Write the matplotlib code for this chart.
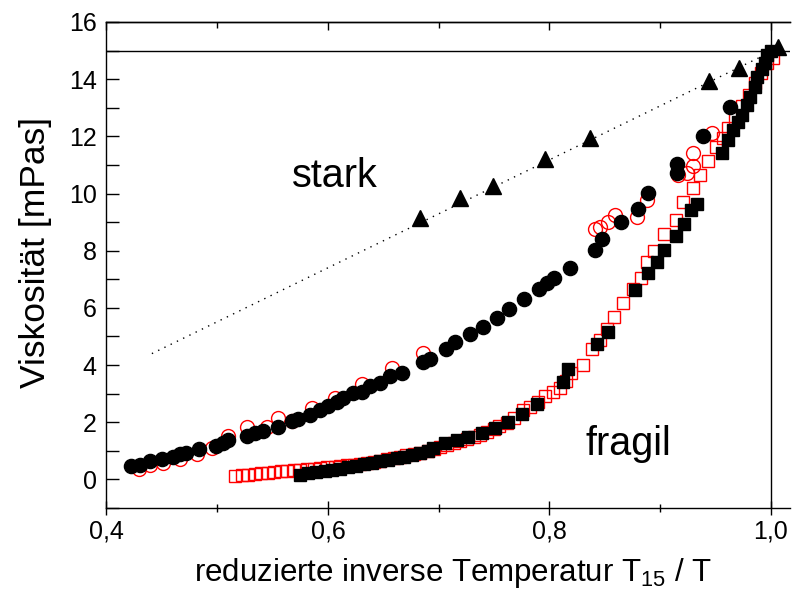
import matplotlib
matplotlib.use("Agg")
import matplotlib.pyplot as plt
from matplotlib.ticker import MultipleLocator, FuncFormatter, NullFormatter

plt.rcParams['font.family'] = ['Liberation Sans', 'DejaVu Sans']
plt.rcParams['mathtext.default'] = 'regular'

# strong liquid (triangles) and its linear guide
stark_x = [0.683, 0.719, 0.749, 0.796, 0.837, 0.944, 0.971, 1.007]
stark_y = [9.15, 9.84, 10.26, 11.20, 11.94, 13.93, 14.38, 15.12]
guide_x = [0.441, 1.000]
guide_y = [4.40, 14.95]

# intermediate liquid: filled circles
circ_x = [0.422, 0.430, 0.439, 0.450, 0.460, 0.466, 0.472, 0.484, 0.499, 0.505,
          0.510, 0.527, 0.534, 0.541, 0.555, 0.568, 0.573, 0.584, 0.593, 0.600,
          0.608, 0.614, 0.623, 0.631, 0.638, 0.647, 0.656, 0.667, 0.686, 0.692,
          0.707, 0.715, 0.728, 0.740, 0.753, 0.764, 0.777, 0.791, 0.798, 0.804,
          0.819, 0.841, 0.848, 0.865, 0.880, 0.889, 0.915, 0.915, 0.939, 0.963]
circ_y = [0.46, 0.52, 0.64, 0.70, 0.78, 0.88, 0.92, 1.05, 1.16, 1.26,
          1.37, 1.51, 1.61, 1.68, 1.83, 2.04, 2.10, 2.24, 2.42, 2.56,
          2.71, 2.84, 3.01, 3.05, 3.26, 3.36, 3.61, 3.71, 4.10, 4.20,
          4.55, 4.80, 5.08, 5.32, 5.64, 5.95, 6.30, 6.65, 6.86, 7.04,
          7.39, 8.02, 8.40, 9.00, 9.45, 10.01, 11.03, 10.71, 12.01, 13.03]

# intermediate liquid: open circles (second run)
ocirc_x = [0.429, 0.439, 0.451, 0.466, 0.482, 0.495, 0.510, 0.527, 0.545, 0.555,
           0.568, 0.586, 0.606, 0.631, 0.658, 0.686,
           0.841, 0.846, 0.853, 0.859, 0.879, 0.888, 0.916, 0.924, 0.930, 0.930, 0.947]
ocirc_y = [0.36, 0.49, 0.56, 0.70, 0.88, 1.09, 1.51, 1.85, 1.82, 2.14,
           2.03, 2.49, 2.84, 3.33, 3.89, 4.41,
           8.75, 8.82, 9.00, 9.24, 9.17, 9.77, 10.64, 10.71, 10.96, 11.41, 12.11]

# fragile liquid: filled squares
sq_x = [0.575, 0.582, 0.589, 0.597, 0.604, 0.611, 0.618, 0.625, 0.633, 0.640,
        0.647, 0.654, 0.662, 0.669, 0.676, 0.683, 0.690, 0.695, 0.706, 0.717,
        0.727, 0.739, 0.751, 0.763, 0.775, 0.789, 0.812, 0.817, 0.843, 0.853,
        0.877, 0.889, 0.897, 0.904, 0.914, 0.922, 0.928, 0.933, 0.956, 0.961,
        0.966, 0.970, 0.974, 0.979, 0.981, 0.986, 0.988, 0.992, 0.995, 0.997, 1.000]
sq_y = [0.17, 0.21, 0.25, 0.29, 0.33, 0.38, 0.43, 0.48, 0.53, 0.58,
        0.63, 0.68, 0.74, 0.80, 0.87, 0.93, 1.00, 1.11, 1.26, 1.37,
        1.48, 1.63, 1.80, 2.02, 2.30, 2.62, 3.41, 3.87, 4.72, 5.16,
        6.62, 7.22, 7.61, 8.02, 8.50, 8.95, 9.44, 9.64, 11.43, 11.87,
        12.22, 12.51, 12.75, 13.10, 13.39, 13.74, 14.09, 14.35, 14.55, 14.85, 15.00]

# fragile liquid: open squares (second run)
osq_x = [0.516, 0.522, 0.528, 0.534, 0.540, 0.546, 0.551, 0.558, 0.563, 0.569,
         0.575, 0.581, 0.587, 0.593, 0.599, 0.606, 0.611, 0.617, 0.624, 0.629,
         0.635, 0.642, 0.647, 0.653, 0.660, 0.665, 0.671, 0.678, 0.683, 0.690,
         0.696, 0.701, 0.708, 0.714, 0.719, 0.726, 0.732, 0.737, 0.744, 0.750,
         0.755, 0.762, 0.768, 0.776, 0.783, 0.790, 0.796, 0.803, 0.810, 0.815,
         0.820, 0.830, 0.839, 0.846, 0.852, 0.858, 0.867, 0.876, 0.883, 0.888,
         0.895, 0.904, 0.914, 0.921, 0.930, 0.936, 0.943, 0.951, 0.957, 0.961,
         0.968, 0.974, 0.980, 0.986, 0.991, 0.997, 1.002]
osq_y = [0.11, 0.14, 0.17, 0.20, 0.22, 0.24, 0.26, 0.28, 0.30, 0.32,
         0.34, 0.36, 0.38, 0.40, 0.42, 0.44, 0.46, 0.49, 0.52, 0.55,
         0.58, 0.62, 0.66, 0.70, 0.74, 0.79, 0.84, 0.89, 0.94, 1.00,
         1.06, 1.12, 1.19, 1.26, 1.33, 1.41, 1.49, 1.57, 1.66, 1.76,
         1.86, 1.99, 2.16, 2.42, 2.53, 2.70, 2.90, 3.06, 3.18, 3.45,
         3.72, 4.00, 4.56, 4.87, 5.25, 5.68, 6.18, 6.65, 7.03, 7.61,
         8.00, 8.58, 9.07, 9.71, 10.21, 10.65, 11.13, 11.61, 11.95, 12.28,
         12.65, 13.05, 13.45, 13.85, 14.20, 14.55, 14.75]

ref_T = 1.0      # T15 / T at the reference point
ref_eta = 15.0   # viscosity defining T15

red = '#ff0000'

fig = plt.figure(figsize=(7.94, 5.94), dpi=100)
ax = fig.add_axes([0.1341, 0.1448, 0.8610, 0.8182])

ax.axhline(ref_eta, color='black', lw=1.0, zorder=1)
ax.axvline(ref_T, color='black', lw=1.0, zorder=1)

ax.plot(guide_x, guide_y, color='black', lw=1.0, linestyle=(0, (1, 4)), zorder=2)

ax.plot(ocirc_x, ocirc_y, 'o', ms=10.0, mfc='none', mec=red, mew=1.0, zorder=3)
ax.plot(osq_x, osq_y, 's', ms=8.2, mfc='none', mec=red, mew=1.0, zorder=3)
ax.plot(circ_x, circ_y, 'o', ms=10.2, color='black', zorder=4)
ax.plot(sq_x, sq_y, 's', ms=8.4, color='black', zorder=4)
ax.plot(stark_x, stark_y, '^', ms=11, color='black', zorder=5)

ax.text(0.6064, 10.22, 'stark', fontsize=28.5, ha='center', va='baseline')
ax.text(0.8718, 0.84, 'fragil', fontsize=28.5, ha='center', va='baseline')

ax.set_xlim(0.4, 1.0175)
ax.set_ylim(-1, 16)

ax.xaxis.set_major_locator(MultipleLocator(0.2))
ax.xaxis.set_minor_locator(MultipleLocator(0.1))
ax.yaxis.set_major_locator(MultipleLocator(2))
ax.yaxis.set_minor_locator(MultipleLocator(1))
ax.xaxis.set_major_formatter(FuncFormatter(lambda v, p: f"{v:.1f}".replace('.', ',')))

for s in ['left', 'bottom', 'top']:
    ax.spines[s].set_linewidth(1.0)
ax.spines['right'].set_visible(False)

ax.tick_params(axis='x', which='both', direction='inout', top=False, labelsize=18,
               width=1.0, pad=3)
ax.tick_params(axis='x', which='major', length=10)
ax.tick_params(axis='x', which='minor', length=6)
ax.tick_params(axis='y', which='both', direction='in', right=False, labelsize=18,
               width=1.0, pad=7)
ax.tick_params(axis='y', which='major', length=9)
ax.tick_params(axis='y', which='minor', length=9)

# inward ticks along the top frame
top = ax.secondary_xaxis('top')
top.xaxis.set_major_locator(MultipleLocator(0.2))
top.xaxis.set_minor_locator(MultipleLocator(0.1))
top.xaxis.set_major_formatter(NullFormatter())
top.tick_params(which='both', direction='in', width=1.0)
top.tick_params(which='major', length=6)
top.tick_params(which='minor', length=4)
top.spines['top'].set_linewidth(1.0)

ax.set_xlabel(r'reduzierte inverse Temperatur T$_{15}$ / T', fontsize=22.5)
ax.set_ylabel('Viskosität [mPas]', fontsize=25.5)
ax.xaxis.set_label_coords(0.507, -0.098)
ax.yaxis.set_label_coords(-0.079, 0.525)

fig.savefig('out.png', dpi=100)
